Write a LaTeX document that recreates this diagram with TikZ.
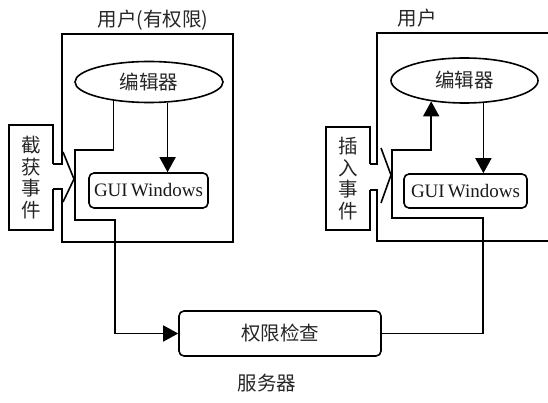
\documentclass[tikz,border=0pt]{standalone}
\usepackage{fontspec}
\setmainfont{Liberation Serif}
\newfontfamily\cjk{Noto Sans CJK SC}
\usetikzlibrary{arrows.meta,shapes.geometric}
\tikzset{
  ln/.style={line width=1.6pt, draw=black, line join=miter},
  arr/.style={ln, -{Triangle[length=15pt,width=16pt]}},
  editor/.style={ln, ellipse, inner sep=0pt, font=\cjk\fontsize{19.5}{21}\selectfont, text=black!85},
  guibox/.style={ln, rounded corners=5pt, inner sep=0pt, font=\fontsize{19}{20}\selectfont, text=black!90},
  vtext/.style={align=center, inner sep=0pt, font=\cjk\fontsize{19.5}{21.5}\selectfont, text=black!85},
  lab/.style={inner sep=0pt, font=\cjk\fontsize{19.5}{21}\selectfont, text=black!85}
}
\begin{document}
\begin{tikzpicture}[x=1pt,y=-1pt]
\useasboundingbox (0,0) rectangle (548,403);

% labels
\node[lab] (lab1) at (153,20) {用户(有权限)};
\node[lab] (lab2) at (417,18) {用户};
\node[lab] (srvlab) at (267,383) {服务器};

% ---------- left user ----------
\draw[ln] (53,164) -- (62,164) -- (62,34) -- (233,34) -- (233,242) -- (62,242) -- (62,189) -- (53,189);
\draw[ln] (53,164) -- (53,125) -- (9,125) -- (9,230) -- (53,230) -- (53,189);
\draw[ln] (63,152) -- (74,179) -- (63,202);
\node[vtext] (ev1) at (31,177.5) {截\\获\\事\\件};

\node[editor, draw, minimum width=148pt, minimum height=41pt] (ed1) at (149,82) {编辑器};
\node[guibox, draw, minimum width=119pt, minimum height=35pt] (gui1) at (148.5,190.5) {GUI\,Windows};

% ---------- right user ----------
\draw[ln] (370,164) -- (377,164) -- (377,33) -- (548,33);
\draw[ln] (548,241) -- (377,241) -- (377,190) -- (370,190);
\draw[ln] (370,164) -- (370,127) -- (326,127) -- (326,230) -- (370,230) -- (370,190);
\draw[ln] (381,148) -- (391,175) -- (381,203);
\node[vtext] (ev2) at (348,178.5) {插\\入\\事\\件};

\node[editor, draw, minimum width=147pt, minimum height=45pt] (ed2) at (464.5,80.5) {编辑器};
\node[guibox, draw, minimum width=123pt, minimum height=34pt] (gui2) at (465.5,191) {GUI\,Windows};

% ---------- server ----------
\node[guibox, draw, minimum width=202pt, minimum height=45pt, font=\cjk\fontsize{19.5}{21}\selectfont, text=black!85] (srv) at (280,333.5) {权限检查};

% connectors
\coordinate (j1) at (115,220);
\coordinate (t1) at (75,150);
\draw[arr] (ed1.-152) |- (t1) |- (j1) -- (j1 |- srv.west) -- (srv.west);
\draw[arr] (ed1.-48) -- (ed1.-48 |- gui1.north);

\coordinate (j2) at (483,218);
\coordinate (t2) at (392,150);
\draw[arr] (srv.east) -| (j2) -| (t2) -| (ed2.-148);
\draw[arr] (ed2.-50) -- (ed2.-50 |- gui2.north);
\end{tikzpicture}
\end{document}
